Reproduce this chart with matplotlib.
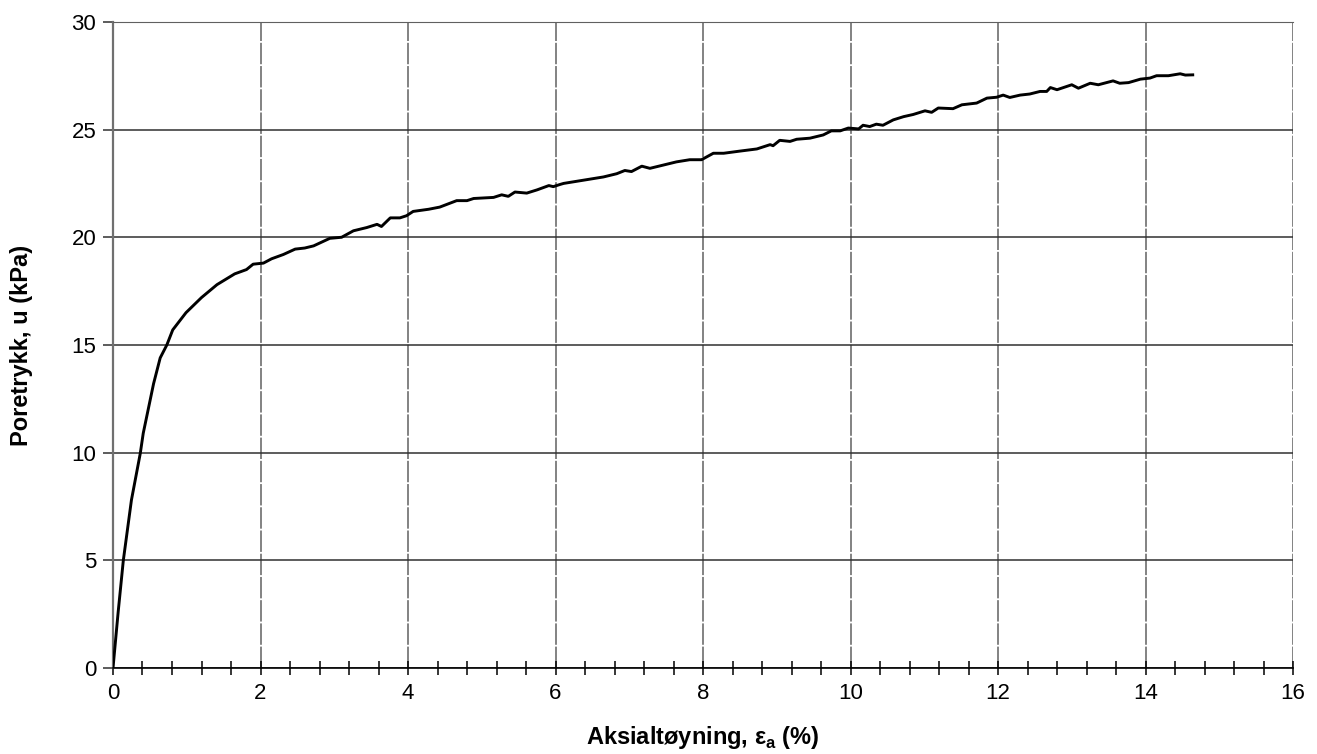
import matplotlib
matplotlib.use("Agg")
import matplotlib.pyplot as plt
import numpy as np
from matplotlib.ticker import MultipleLocator

plt.rcParams['font.family'] = ['Liberation Sans', 'DejaVu Sans']
plt.rcParams['mathtext.fontset'] = 'custom'
plt.rcParams['mathtext.rm'] = 'Liberation Sans'
plt.rcParams['mathtext.bf'] = 'Liberation Sans:bold'

# axial strain (%) and pore pressure (kPa)
strain = [0.0, 0.07, 0.14, 0.25, 0.37, 0.41, 0.55, 0.64, 0.73, 0.81, 0.99, 1.2, 1.41,
          1.65, 1.81, 1.9, 2.04, 2.15, 2.31, 2.47, 2.6, 2.72, 2.94, 3.1, 3.26, 3.44,
          3.58, 3.64, 3.76, 3.89, 3.98, 4.07, 4.28, 4.43, 4.66, 4.8, 4.89, 5.16, 5.27,
          5.36, 5.45, 5.61, 5.75, 5.91, 5.97, 6.06, 6.11, 6.29, 6.47, 6.65, 6.83, 6.94,
          7.03, 7.17, 7.28, 7.46, 7.64, 7.82, 7.98, 8.14, 8.28, 8.5, 8.73, 8.91, 8.95,
          9.04, 9.18, 9.27, 9.45, 9.63, 9.74, 9.86, 9.97, 10.11, 10.17, 10.26, 10.35,
          10.44, 10.58, 10.72, 10.85, 11.01, 11.1, 11.19, 11.39, 11.51, 11.71, 11.85,
          11.98, 12.07, 12.16, 12.3, 12.43, 12.57, 12.66, 12.71, 12.8, 13.0, 13.09,
          13.25, 13.36, 13.56, 13.65, 13.77, 13.93, 14.06, 14.15, 14.31, 14.47, 14.54,
          14.64]
pore = [0.0, 2.6, 5.0, 7.8, 9.97, 10.9, 13.2, 14.4, 15.0, 15.7, 16.5, 17.2, 17.8,
        18.3, 18.5, 18.75, 18.8, 19.0, 19.2, 19.45, 19.5, 19.6, 19.95, 20.0, 20.3, 20.45,
        20.6, 20.5, 20.9, 20.9, 21.0, 21.2, 21.3, 21.4, 21.7, 21.7, 21.8, 21.85, 21.97,
        21.9, 22.1, 22.05, 22.2, 22.4, 22.35, 22.45, 22.5, 22.6, 22.7, 22.8, 22.95, 23.1,
        23.05, 23.3, 23.2, 23.35, 23.5, 23.6, 23.6, 23.9, 23.9, 24.0, 24.1, 24.3, 24.25,
        24.5, 24.45, 24.55, 24.6, 24.75, 24.94, 24.94, 25.07, 25.03, 25.2, 25.14, 25.25,
        25.2, 25.45, 25.6, 25.7, 25.87, 25.8, 26.0, 25.97, 26.15, 26.23, 26.46, 26.5,
        26.6, 26.49, 26.6, 26.65, 26.77, 26.77, 26.95, 26.85, 27.08, 26.92, 27.15,
        27.08, 27.26, 27.15, 27.18, 27.34, 27.39, 27.5, 27.5, 27.59, 27.53, 27.54]

fig = plt.figure(figsize=(13.17, 7.54), dpi=100)
ax = fig.add_axes([0.0858, 0.114, 0.896, 0.857])

ax.plot(strain, pore, color='black', linewidth=2.1, solid_joinstyle='round', zorder=3)

ax.set_xlim(0, 16)
ax.set_ylim(0, 30)
ax.xaxis.set_major_locator(MultipleLocator(2))
ax.xaxis.set_minor_locator(MultipleLocator(0.4))
ax.yaxis.set_major_locator(MultipleLocator(5))

# solid horizontal grid, long-dashed vertical grid
ax.grid(axis='y', color='#303030', linewidth=1.1, linestyle='-')
ax.grid(axis='x', color='#606060', linewidth=1.1, linestyle=(0, (14, 1.2)))
ax.set_axisbelow(True)

ax.spines['right'].set_visible(False)
ax.spines['top'].set_color('#606060')
ax.spines['left'].set_color('#707070')
ax.spines['left'].set_linewidth(1.6)
ax.spines['bottom'].set_color('black')
ax.spines['bottom'].set_linewidth(1.2)

ax.tick_params(axis='x', which='both', direction='inout', length=10, width=1.1,
               labelsize=16, pad=6, color='black')
ax.tick_params(axis='y', which='major', direction='out', length=7, width=1.1,
               labelsize=16, pad=5, color='#303030')

ax.set_xlabel(r"Aksialtøyning, ε$_\mathbf{a}$ (%)", fontsize=17, fontweight='bold', labelpad=14)
ax.set_ylabel("Poretrykk, u (kPa)", fontsize=17, fontweight='bold', labelpad=28)

fig.savefig("out.png", dpi=100)
